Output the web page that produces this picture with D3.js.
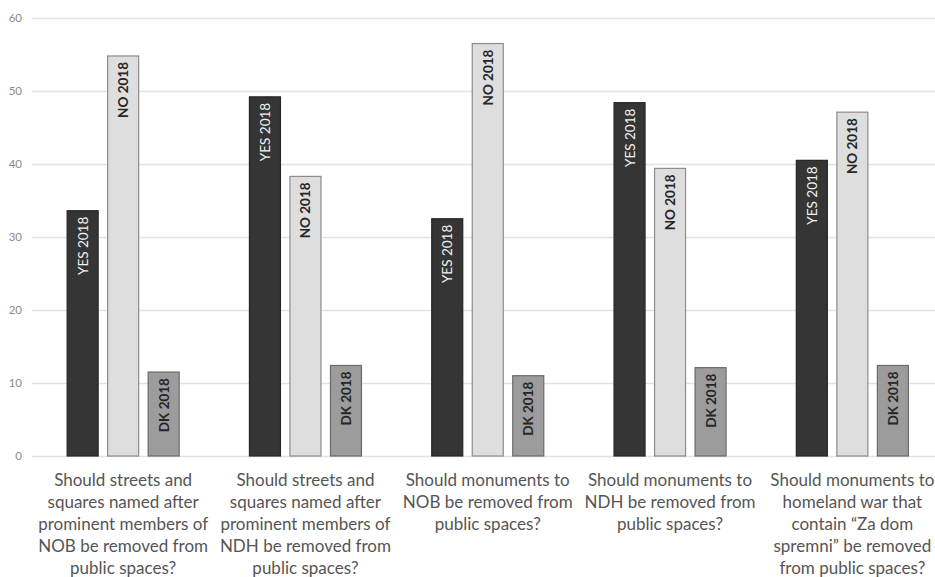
<!DOCTYPE html>
<html><head><meta charset="utf-8">
<script src="https://cdn.jsdelivr.net/npm/d3@7"></script>
<style>body{margin:0;background:#fff}svg{display:block}</style>
</head><body>
<svg id="c" width="935" height="577"></svg>
<script>
const categories = [
  ["Should streets and","squares named after","prominent members of","NOB be removed from","public spaces?"],
  ["Should streets and","squares named after","prominent members of","NDH be removed from","public spaces?"],
  ["Should monuments to","NOB be removed from","public spaces?"],
  ["Should monuments to","NDH be removed from","public spaces?"],
  ["Should monuments to","homeland war that","contain \u201CZa dom","spremni\u201D be removed","from public spaces?"]
];
const seriesNames = ["YES 2018","NO 2018","DK 2018"];
const yesValues = [33.6, 49.2, 32.5, 48.4, 40.5];
const noValues  = [54.8, 38.3, 56.5, 39.4, 47.1];
const dkValues  = [11.5, 12.4, 11.0, 12.1, 12.4];
const yTicks = [0,10,20,30,40,50,60];

const series = [yesValues, noValues, dkValues];
const fills = ["#353535","#dedede","#9c9c9c"];
const strokes = ["#262626","#8c8c8c","#6a6a6a"];
const labelFill = ["#f2f2f2","#262626","#262626"];
const labelWeight = ["normal","bold","bold"];

const svg = d3.select("#c");
const y = d3.scaleLinear().domain([0,60]).range([456,18]);
const x0 = d3.scaleBand().domain(d3.range(categories.length)).range([32,943.5]).paddingInner(0.38).paddingOuter(0.19);
const x1 = d3.scaleBand().domain(d3.range(3)).range([0,x0.bandwidth()]).paddingInner(0.21).paddingOuter(0);

// gridlines
const yAxis = d3.axisLeft(y).tickValues(yTicks).tickSize(-(935-32)).tickPadding(10);
const ga = svg.append("g").attr("transform","translate(32,0)").call(yAxis);
ga.select(".domain").remove();
ga.selectAll(".tick line").attr("stroke","#e2e2e2").attr("stroke-width",1.3);
ga.selectAll(".tick text").attr("fill","#8a8a8a").attr("font-family","Lato, 'Open Sans', sans-serif").attr("font-size",11.5).attr("x",-10);

// bars
const groups = svg.append("g").selectAll("g").data(categories).join("g")
  .attr("transform",(d,i)=>`translate(${x0(i)},0)`);
groups.each(function(cat, ci){
  const g = d3.select(this);
  series.forEach((vals, si)=>{
    const v = vals[ci];
    const bx = x1(si), bw = x1.bandwidth();
    g.append("rect").attr("x",bx+0.5).attr("y",y(v)).attr("width",bw-1).attr("height",y(0)-y(v))
      .attr("fill",fills[si]).attr("stroke",strokes[si]).attr("stroke-width",1.2);
    const cx = bx + bw/2, ty = y(v)+6;
    g.append("text").attr("transform",`translate(${cx+5},${ty}) rotate(-90)`)
      .attr("text-anchor","end").attr("font-family","Lato, 'Open Sans', sans-serif")
      .attr("font-size",13.5).attr("font-weight",labelWeight[si]).attr("fill",labelFill[si])
      .text(seriesNames[si]);
  });
});

// category labels
const xl = svg.append("g").selectAll("text").data(categories).join("text")
  .attr("x",(d,i)=>x0(i)+x0.bandwidth()/2).attr("y",486)
  .attr("text-anchor","middle").attr("font-family","Lato, 'Open Sans', sans-serif")
  .attr("font-size",17).attr("fill","#555");
xl.each(function(lines){
  const t = d3.select(this);
  lines.forEach((l,k)=>t.append("tspan").attr("x",t.attr("x")).attr("dy",k===0?0:22).text(l));
});
</script>
</body></html>
